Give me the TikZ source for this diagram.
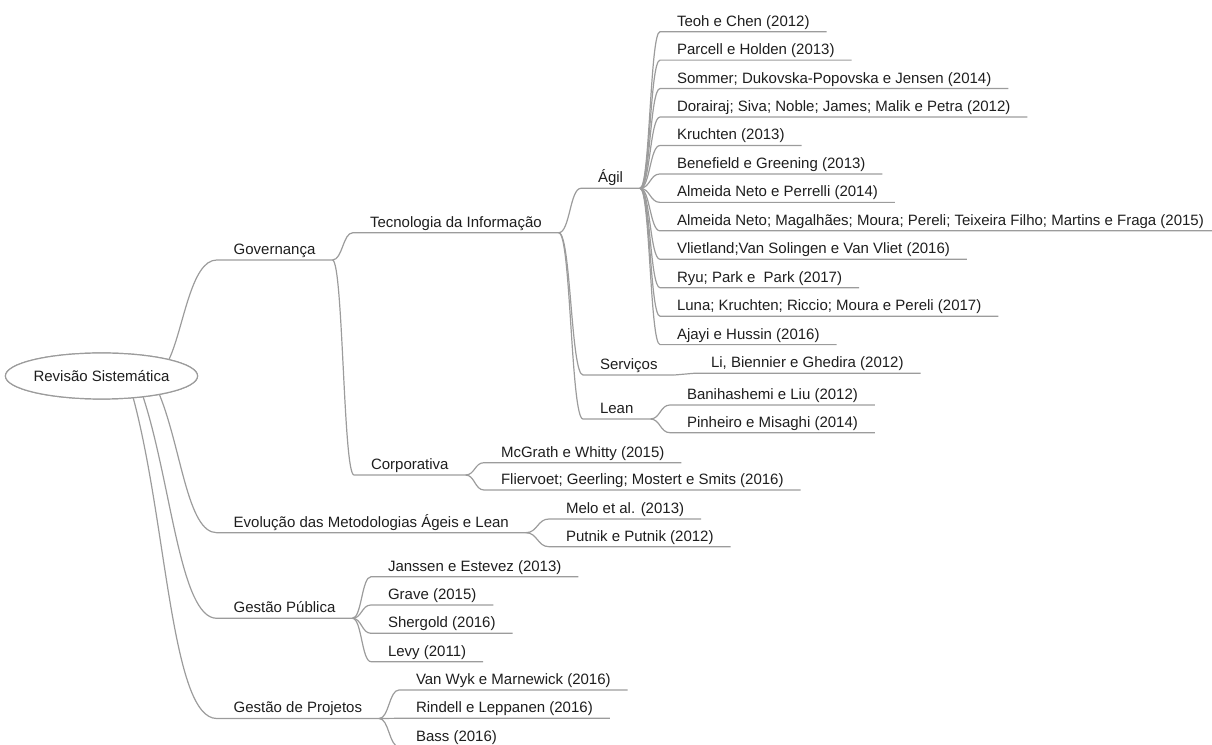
\documentclass[tikz,border=0pt]{standalone}
\usepackage{fontspec}
\setmainfont{Liberation Sans}
\usetikzlibrary{shapes.geometric,calc}

\definecolor{linkgrey}{HTML}{9C9C9C}
\definecolor{textdark}{HTML}{1E1E1E}

\tikzset{
  mm/.style={anchor=base west, inner xsep=17pt, inner ysep=0pt, outer sep=0pt,
    text=textdark, font=\fontsize{15}{18}\selectfont},
  link/.style={draw=linkgrey, line width=1.2pt, line join=round},
  rootnode/.style={ellipse, draw=linkgrey, line width=1.2pt, fill=white,
    minimum width=183pt, minimum height=46pt, inner sep=0pt,
    text=textdark, font=\fontsize{15}{18}\selectfont},
}

% bracket-shaped branch from the end of a parent's underline to a child's underline
\newcommand\mmlink[2]{%
  \draw[link] let \p1=([yshift=-5.5pt]#1.base east),
                  \p2=([yshift=-5.5pt]#2.base west),
                  \n1={0.5*(\x2-\x1)} in
    (\p1) .. controls ({\x1+\n1},\y1) and ({\x2-\n1},\y2) .. (\p2)
    -- ([yshift=-5.5pt]#2.base east);}

\begin{document}
\begin{tikzpicture}[x=1pt,y=1pt]
\useasboundingbox (0,0) rectangle (1212,744);

% root
\node[rootnode] (root) at (101.5,368) {Revisão Sistemática};

% first level
\node[mm] (gov)  at (216.7,489.5) {Governança};
\node[mm] (evo)  at (216.7,216.8) {Evolução das Metodologias Ágeis e Lean};
\node[mm] (gp)   at (216.7,131.2) {Gestão Pública};
\node[mm] (gpj)  at (216.7,31.0)  {Gestão de Projetos};

% Governança
\node[mm] (ti)   at (353,516.8) {Tecnologia da Informação};
\node[mm] (corp) at (354,274.5) {Corporativa};

% Tecnologia da Informação
\node[mm] (agil) at (581,561.2) {Ágil};
\node[mm] (serv) at (583,374.5) {Serviços};
\node[mm] (lean) at (583,330.5) {Lean};

% Ágil
\node[mm] (a1)  at (660,717.80) {Teoh e Chen (2012)};
\node[mm] (a2)  at (660,689.35) {Parcell e Holden (2013)};
\node[mm] (a3)  at (660,660.90) {Sommer; Dukovska-Popovska e Jensen (2014)};
\node[mm] (a4)  at (660,632.45) {Dorairaj; Siva; Noble; James; Malik e Petra (2012)};
\node[mm] (a5)  at (660,604.00) {Kruchten (2013)};
\node[mm] (a6)  at (660,575.55) {Benefield e Greening (2013)};
\node[mm] (a7)  at (660,547.10) {Almeida Neto e Perrelli (2014)};
\node[mm] (a8)  at (660,518.65) {Almeida Neto; Magalhães; Moura; Pereli; Teixeira Filho; Martins e Fraga (2015)};
\node[mm] (a9)  at (660,490.20) {Vlietland;Van Solingen e Van Vliet (2016)};
\node[mm] (a10) at (660,461.75) {Ryu; Park e\ \ Park (2017)};
\node[mm] (a11) at (660,433.30) {Luna; Kruchten; Riccio; Moura e Pereli (2017)};
\node[mm] (a12) at (660,404.85) {Ajayi e Hussin (2016)};

% Serviços and Lean
\node[mm] (li)   at (694,376.2) {Li, Biennier e Ghedira (2012)};
\node[mm] (bani) at (670,344.5) {Banihashemi e Liu (2012)};
\node[mm] (pinh) at (670,316.8) {Pinheiro e Misaghi (2014)};

% Corporativa
\node[mm] (mcg)  at (484,286.8) {McGrath e Whitty (2015)};
\node[mm] (flie) at (484,259.5) {Fliervoet; Geerling; Mostert e Smits (2016)};

% Evolução
\node[mm] (melo) at (549,230.5) {Melo et al. (2013)};
\node[mm] (putn) at (549,202.8) {Putnik e Putnik (2012)};

% Gestão Pública
\node[mm] (jans)  at (371,172.8) {Janssen e Estevez (2013)};
\node[mm] (grave) at (371,144.5) {Grave (2015)};
\node[mm] (sherg) at (371,116.2) {Shergold (2016)};
\node[mm] (levy)  at (371,87.8)  {Levy (2011)};

% Gestão de Projetos
\node[mm] (wyk)  at (399,59.5) {Van Wyk e Marnewick (2016)};
\node[mm] (rind) at (399,31.2) {Rindell e Leppanen (2016)};
\node[mm] (bass) at (399,2.8)  {Bass (2016)};

% branches leaving the root
\draw[link] (root.14) to[out=65,in=180,out looseness=0.8,in looseness=0.6]
  ([yshift=-5.5pt]gov.base west) -- ([yshift=-5.5pt]gov.base east);
\draw[link] (root.-18.4) to[out=-68,in=180,out looseness=1,in looseness=0.5]
  ([yshift=-5.5pt]evo.base west) -- ([yshift=-5.5pt]evo.base east);
\draw[link] (root.-27.2) to[out=-72,in=180,out looseness=1,in looseness=0.4]
  ([yshift=-5.5pt]gp.base west) -- ([yshift=-5.5pt]gp.base east);
\draw[link] (root.-35.7) to[out=-75,in=180,out looseness=1,in looseness=0.35]
  ([yshift=-5.5pt]gpj.base west) -- ([yshift=-5.5pt]gpj.base east);

% inner branches
\mmlink{gov}{ti}
\mmlink{gov}{corp}
\mmlink{ti}{agil}
\mmlink{ti}{serv}
\mmlink{ti}{lean}
\foreach \k in {1,...,12} {\mmlink{agil}{a\k}}
\mmlink{serv}{li}
\mmlink{lean}{bani}
\mmlink{lean}{pinh}
\mmlink{corp}{mcg}
\mmlink{corp}{flie}
\mmlink{evo}{melo}
\mmlink{evo}{putn}
\mmlink{gp}{jans}
\mmlink{gp}{grave}
\mmlink{gp}{sherg}
\mmlink{gp}{levy}
\mmlink{gpj}{wyk}
\mmlink{gpj}{rind}
\mmlink{gpj}{bass}

% redraw the root on top of its branch ends
\node[rootnode] at (root.center) {Revisão Sistemática};
\end{tikzpicture}
\end{document}
